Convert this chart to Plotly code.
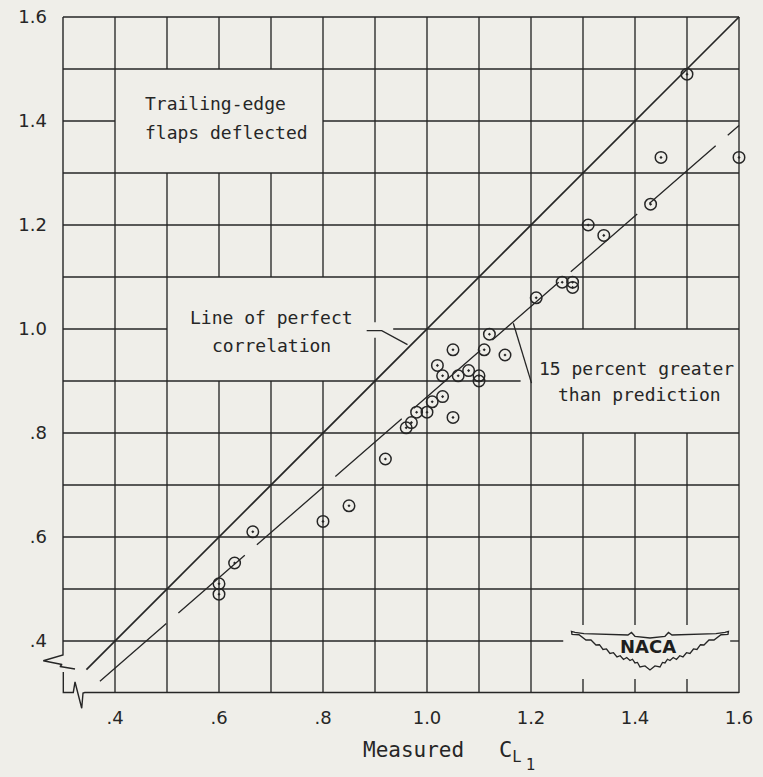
import plotly.graph_objects as go

# Section lift coefficient: measured value against estimated value,
# trailing-edge flaps deflected
measured_cl = [0.60, 0.60, 0.63, 0.665, 0.80, 0.85, 0.92, 0.96, 0.97, 0.98, 1.00, 1.01,
               1.03, 1.05, 1.02, 1.03, 1.06, 1.08, 1.10, 1.10, 1.05, 1.11, 1.12, 1.15,
               1.21, 1.26, 1.28, 1.28, 1.31, 1.34, 1.43, 1.45, 1.50, 1.60]
estimated_cl = [0.51, 0.49, 0.55, 0.61, 0.63, 0.66, 0.75, 0.81, 0.82, 0.84, 0.84, 0.86,
                0.87, 0.83, 0.93, 0.91, 0.91, 0.92, 0.91, 0.90, 0.96, 0.96, 0.99, 0.95,
                1.06, 1.09, 1.09, 1.08, 1.20, 1.18, 1.24, 1.33, 1.49, 1.33]

# reference lines
perfect_x = [0.345, 1.60]
excess = 0.15                      # measured 15 percent above prediction
excess_x = [0.371, 1.60]
excess_y = [v / (1 + excess) for v in excess_x]

tick_vals = [0.4, 0.6, 0.8, 1.0, 1.2, 1.4, 1.6]
tick_text = [".4", ".6", ".8", "1.0", "1.2", "1.4", "1.6"]
rule_vals = [0.4, 0.5, 0.6, 0.7, 0.8, 0.9, 1.0, 1.1, 1.2, 1.3, 1.4, 1.5, 1.6]

# areas left free of ruling for the lettering and emblem: (x0, x1, y0, y1)
clear_zones = [
    (0.40, 0.80, 1.30, 1.50),
    (0.50, 0.90, 0.90, 1.10),
    (0.87, 0.935, 0.983, 1.013),
    (1.20, 1.60, 0.80, 1.00),
    (1.18, 1.20, 0.89, 0.91),
    (1.262, 1.583, 0.327, 0.431),
]

INK = "#262626"
PAPER = "#efeee9"
LO, HI = 0.3, 1.6


def cut(lo, hi, gaps):
    segs = [(lo, hi)]
    for g0, g1 in sorted(gaps):
        out = []
        for a, b in segs:
            if g1 <= a or g0 >= b:
                out.append((a, b))
            else:
                if g0 > a:
                    out.append((a, g0))
                if g1 < b:
                    out.append((g1, b))
        segs = out
    return segs


gx, gy = [], []
for v in rule_vals:
    # horizontal rule at y = v
    for a, b in cut(LO, HI, [(z[0], z[1]) for z in clear_zones if z[2] < v < z[3]]):
        gx += [a, b, None]
        gy += [v, v, None]
    # vertical rule at x = v
    for a, b in cut(LO, HI, [(z[2], z[3]) for z in clear_zones if z[0] < v < z[1]]):
        gx += [v, v, None]
        gy += [a, b, None]

# left and bottom frame lines with the broken-axis marks at the corner
frame_x = [0.3, 0.3, 0.2621, 0.2981, 0.2942, 0.3231, None,
           0.3006, 0.3006, 0.3198, 0.3231, 0.3360, 0.3385, 0.3420, 1.6]
frame_y = [1.6, 0.3731, 0.3621, 0.3548, 0.3510, 0.3462, None,
           0.3404, 0.3010, 0.3010, 0.3212, 0.2706, 0.3000, 0.3010, 0.3010]

fig = go.Figure()
fig.add_trace(go.Scatter(x=gx, y=gy, mode="lines", line=dict(color=INK, width=1.35),
                         hoverinfo="skip", showlegend=False))
fig.add_trace(go.Scatter(x=frame_x, y=frame_y, mode="lines",
                         line=dict(color=INK, width=1.4), hoverinfo="skip", showlegend=False))
fig.add_trace(go.Scatter(x=perfect_x, y=perfect_x, mode="lines",
                         line=dict(color=INK, width=1.7), showlegend=False))
fig.add_trace(go.Scatter(x=excess_x, y=excess_y, mode="lines",
                         line=dict(color=INK, width=1.3, dash="88px,16px"), showlegend=False))
fig.add_trace(go.Scatter(x=measured_cl, y=estimated_cl, mode="markers",
                         marker=dict(symbol="circle-open-dot", size=11.5, color=INK,
                                     line=dict(width=1.5, color=INK)),
                         showlegend=False))

# leader lines from the lettering to the curves
fig.add_trace(go.Scatter(x=[0.884, 0.913, 0.9625], y=[0.997, 0.997, 0.970], mode="lines",
                         line=dict(color=INK, width=1.3), hoverinfo="skip", showlegend=False))
fig.add_trace(go.Scatter(x=[1.166, 1.201], y=[1.011, 0.896], mode="lines",
                         line=dict(color=INK, width=1.3), hoverinfo="skip", showlegend=False))

# winged emblem, outline given in pixel offsets about its top centre
S = 520.0
ecx, ecy = 1.4288, 0.4135
upper = [(-78, 0.5), (-78.5, -2.5), (-75, -1.5), (-66, -0.3), (-22, 1), (-18.5, -1.5),
         (-15, 2.3), (0, 4), (15, 2.3), (18.5, -1.5), (22, 1), (66, -0.3), (75, -1.5),
         (78.5, -2.5), (78, 0.5)]
lower = [(78, 0.5), (64, 6), (54, 11), (47, 15.5), (40, 19.5), (33, 23), (26.5, 25.5),
         (20, 26.5), (15, 29), (10, 33), (0, 36)]
edge = []
for (ax, ay), (bx, by) in zip(lower[:-1], lower[1:]):
    edge.append(((ax + bx) / 2, (ay + by) / 2 - 2.5))
    edge.append((bx, by))
outline = upper + edge + [(-px, py) for px, py in reversed(edge[:-1])] + [(-78, 0.5)]
path = "M " + " L ".join(f"{ecx + dx / S:.5f},{ecy - dy / S:.5f}" for dx, dy in outline) + " Z"
fig.add_shape(type="path", path=path, xref="x", yref="y",
              line=dict(color=INK, width=1.3), fillcolor=PAPER)

MONO = "DejaVu Sans Mono"
SANS = "DejaVu Sans"
notes = [
    ("Trailing-edge", 0.4538, 1.4346, "left"),
    ("flaps deflected", 0.4538, 1.3788, "left"),
    ("Line of perfect", 0.701, 1.0212, "center"),
    ("correlation", 0.701, 0.9692, "center"),
    ("15 percent greater", 1.402, 0.925, "center"),
    ("than prediction", 1.409, 0.8731, "center"),
]
for txt, x, y, anc in notes:
    fig.add_annotation(x=x, y=y, text=txt, showarrow=False, xanchor=anc, yanchor="middle",
                       font=dict(family=MONO, size=18, color=INK))

fig.add_annotation(x=1.4258, y=0.3895, text="NACA", showarrow=False,
                   font=dict(family=SANS, size=18, color="#1e1e1e", weight="bold"))

# axis title: Measured C sub L sub 1
fig.add_annotation(x=0.873, y=0.1904, text="Measured", showarrow=False, xanchor="left",
                   yanchor="middle", font=dict(family=MONO, size=21, color=INK))
fig.add_annotation(x=1.1346, y=0.219, text="C<sub>L</sub>", showarrow=False,
                   xanchor="left", yanchor="top", font=dict(family=MONO, size=22, color=INK))
fig.add_annotation(x=1.1865, y=0.1625, text="1", showarrow=False,
                   xanchor="left", yanchor="middle", font=dict(family=SANS, size=15, color=INK))

fig.update_layout(
    width=763, height=777,
    margin=dict(l=11, r=11, t=4, b=6),
    paper_bgcolor=PAPER, plot_bgcolor=PAPER,
    xaxis=dict(range=[0.2, 1.625], anchor="free", position=(0.3 - 0.15) / 1.475,
               tickvals=tick_vals, ticktext=tick_text, ticks="", showgrid=False,
               zeroline=False, showline=False, ticklabelstandoff=12,
               tickfont=dict(family=SANS, size=18, color=INK)),
    yaxis=dict(range=[0.15, 1.625], anchor="free", position=(0.3 - 0.2) / 1.425,
               tickvals=tick_vals, ticktext=tick_text, ticks="", showgrid=False,
               zeroline=False, showline=False, ticklabelstandoff=16,
               tickfont=dict(family=SANS, size=18, color=INK)),
)

fig.write_html("out.html")
